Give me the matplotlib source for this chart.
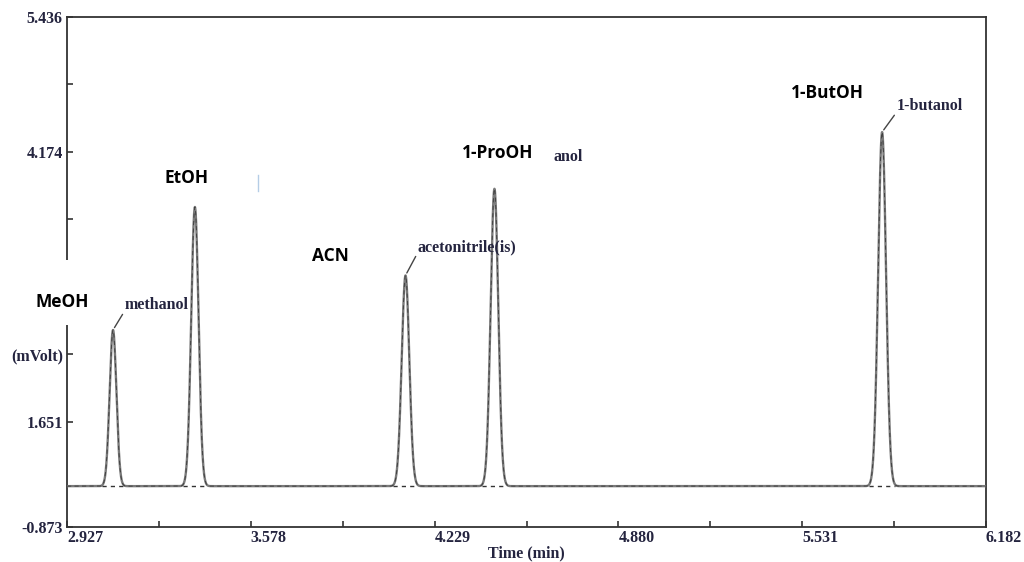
import numpy as np
import matplotlib
matplotlib.use('Agg')
from matplotlib import pyplot as plt
from matplotlib.patches import Rectangle

# peaks (time in min, apex in mV)
compounds = ['methanol', 'ethanol', 'acetonitrile(is)', '1-propanol', '1-butanol']
short_names = ['MeOH', 'EtOH', 'ACN', '1-ProOH', '1-ButOH']
ret_time = [3.090, 3.380, 4.126, 4.441, 5.814]
apex = [2.51, 3.66, 3.02, 3.83, 4.36]
sigma = [0.0120, 0.0130, 0.0135, 0.0135, 0.0140]
baseline = 1.05

x_ticks = [2.927, 3.2525, 3.578, 3.9035, 4.229, 4.5545, 4.880, 5.2055, 5.531, 5.8565, 6.182]
x_labels = ['2.927', '', '3.578', '', '4.229', '', '4.880', '', '5.531', '', '6.182']
y_ticks = [5.436, 4.805, 4.174, 3.543, 2.912, 2.281, 1.650, 0.668]
y_labels = ['5.436', '', '4.174', '', '', '(mVolt)', '1.651', '-0.873']

serif = 'Liberation Serif'
navy = '#24243f'

fig = plt.figure(figsize=(10.24, 5.62), dpi=100)
ax = fig.add_axes([67/1024, 1-527/562, 919/1024, 510/562])

t = np.linspace(2.927, 6.182, 6000)
signal = np.full_like(t, baseline)
for rt, h, s in zip(ret_time, apex, sigma):
    signal += (h - baseline) * np.exp(-0.5 * ((t - rt) / s) ** 2)

ax.plot(t, signal, color='#7a7a7a', lw=1.7, zorder=3)
ax.plot(t, signal, color='#3a3a3a', lw=0.6, ls=(0, (5, 4)), zorder=4)

# integration baselines under each peak
for rt, s in zip(ret_time, sigma):
    ax.plot([rt - 3.2*s, rt + 3.2*s], [baseline, baseline], color='#333333',
            lw=1.0, ls=(0, (3, 3)), zorder=5)

ax.set_xlim(2.927, 6.182)
ax.set_ylim(0.668, 5.436)
ax.set_xticks(x_ticks)
ax.set_xticklabels(x_labels, ha='left')
ax.set_yticks(y_ticks)
ax.set_yticklabels(y_labels)
ax.tick_params(direction='in', length=4, width=1.2, color='#333333', labelsize=11.5,
               labelcolor=navy)
ax.tick_params(axis='x', pad=2)
ax.tick_params(axis='y', pad=3)
for lab in ax.get_xticklabels() + ax.get_yticklabels():
    lab.set_fontfamily(serif)
    lab.set_fontweight('bold')
for sp in ax.spines.values():
    sp.set_color('#333333')
    sp.set_linewidth(1.3)

ax.set_xlabel('Time (min)', fontfamily=serif, fontweight='bold', fontsize=11.5,
              color=navy, labelpad=0)

# compound labels with leader lines (instrument style)
label_pos = [(125, 305), None, (418, 247), None, (897, 106)]
for name, rt, h, pos in zip(compounds, ret_time, apex, label_pos):
    if pos is None:
        continue
    xy = ax.transData.transform((rt, h))
    lx, ly = pos[0], 562 - pos[1]
    ax.annotate('', xy=(xy[0], xy[1]), xycoords='figure pixels',
                xytext=(lx - 1, ly - 7), textcoords='figure pixels',
                arrowprops=dict(arrowstyle='-', color='#444444', lw=1.0))
    fig.text(lx/1024, ly/562, name, fontfamily=serif, fontweight='bold',
             fontsize=11.5, color=navy, ha='left', va='center')

# leftover of the covered 1-propanol label
fig.text(553/1024, 1-157/562, 'anol', fontfamily=serif, fontweight='bold',
         fontsize=11.5, color=navy, ha='left', va='center')

# white patch behind MeOH that hides part of the y axis
fig.patches.append(Rectangle((20/1024, 1-325/562), 78/1024, 65/562,
                             transform=fig.transFigure, facecolor='white',
                             edgecolor='none', zorder=10))

# small stray mark left in the picture
fig.lines.append(plt.Line2D([258/1024, 258/1024], [1-191/562, 1-175/562],
                            transform=fig.transFigure, color='#b5cde6', lw=1.0))

short_pos = [(62, 302), (187, 178), (330, 256), (498, 153), (827, 93)]
for name, (px, py) in zip(short_names, short_pos):
    fig.text(px/1024, 1-py/562, name, fontfamily='Open Sans', fontweight='bold',
             fontsize=12.5, color='black', ha='center', va='center', zorder=11)

fig.savefig('out.png', dpi=100)
